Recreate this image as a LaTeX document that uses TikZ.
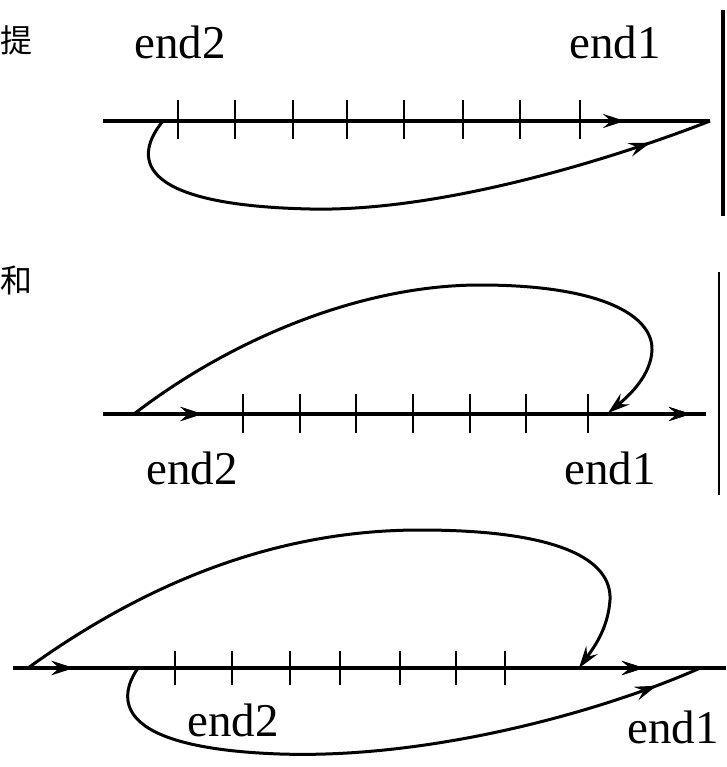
\documentclass[tikz,border=0pt]{standalone}
\usepackage{fontspec}
\setmainfont{Liberation Serif}
\newfontfamily\cjkfont{Noto Sans CJK SC}
\usetikzlibrary{arrows.meta,decorations.markings}
\tikzset{
  axisline/.style={line width=3.3pt},
  tickline/.style={line width=2.9pt},
  curveline/.style={line width=3pt},
  midarrow/.style={postaction={decorate},decoration={markings,mark=at position #1 with {\arrow{Stealth[length=22pt,width=14pt,inset=8pt]}}}},
  lbl/.style={font=\fontsize{47}{50}\selectfont,inner sep=0pt},
  cjk/.style={font=\cjkfont\fontsize{32}{34}\selectfont,inner sep=0pt}
}
\begin{document}
\begin{tikzpicture}[x=1pt,y=-1pt]
\useasboundingbox (0,0) rectangle (726,767);
% side characters
\node[cjk] (c1) at (17,40) {提};
\node[cjk] (c2) at (17,280) {和};

% ---------- panel 1 ----------
\coordinate (a1s) at (103,121);
\coordinate (a1e) at (710,121);
\draw[axisline,midarrow=0.86] (a1s) -- (a1e);
\foreach \x in {178,235,293,347,404,463,520,580}
  \draw[tickline] (\x,100) -- (\x,139);
\coordinate (p1s) at (163,121);
\draw[curveline,midarrow=0.9] (p1s) .. controls (135,155) and (130,205) .. (310,209)
  .. controls (440,212) and (610,160) .. (a1e);
\node[lbl] (t12) at (180,42) {end2};
\node[lbl] (t11) at (615,42) {end1};
\draw[line width=3.5pt] (723,10) -- (723,216);

% ---------- panel 2 ----------
\coordinate (a2s) at (103,414);
\coordinate (a2e) at (706,414);
\draw[axisline,midarrow=0.165,midarrow=0.975] (a2s) -- (a2e);
\foreach \x in {243,300,356,413,470,526,588}
  \draw[tickline] (\x,394) -- (\x,433);
\coordinate (p2s) at (134,414);
\coordinate (p2e) at (608,413);
\draw[curveline,-{Stealth[length=22pt,width=14pt,inset=8pt]}] (p2s) .. controls (230,340) and (360,285) .. (480,285)
  .. controls (600,285) and (653,315) .. (652,350)
  .. controls (651,375) and (630,395) .. (p2e);
\node[lbl] (t22) at (192,468) {end2};
\node[lbl] (t21) at (610,468) {end1};
\draw[line width=1.8pt] (719,272) -- (719,495);

% ---------- panel 3 ----------
\coordinate (a3s) at (13,668);
\coordinate (a3e) at (726,668);
\draw[axisline,midarrow=0.085,midarrow=0.885] (a3s) -- (a3e);
\foreach \x in {175,232,290,340,400,456,505}
  \draw[tickline] (\x,651) -- (\x,685);
\coordinate (p3s) at (28,668);
\coordinate (p3e) at (579,668);
\draw[curveline,-{Stealth[length=22pt,width=14pt,inset=8pt]}] (p3s) .. controls (150,580) and (280,530) .. (420,530)
  .. controls (560,530) and (612,560) .. (610,600)
  .. controls (608,630) and (592,650) .. (p3e);
\coordinate (q3s) at (138,668);
\coordinate (q3e) at (698,669);
\draw[curveline,midarrow=0.93] (q3s) .. controls (118,697) and (110,748) .. (280,754)
  .. controls (430,759) and (600,712) .. (q3e);
\node[lbl] (t32) at (233,720) {end2};
\node[lbl] (t31) at (673,727) {end1};
\end{tikzpicture}
\end{document}
